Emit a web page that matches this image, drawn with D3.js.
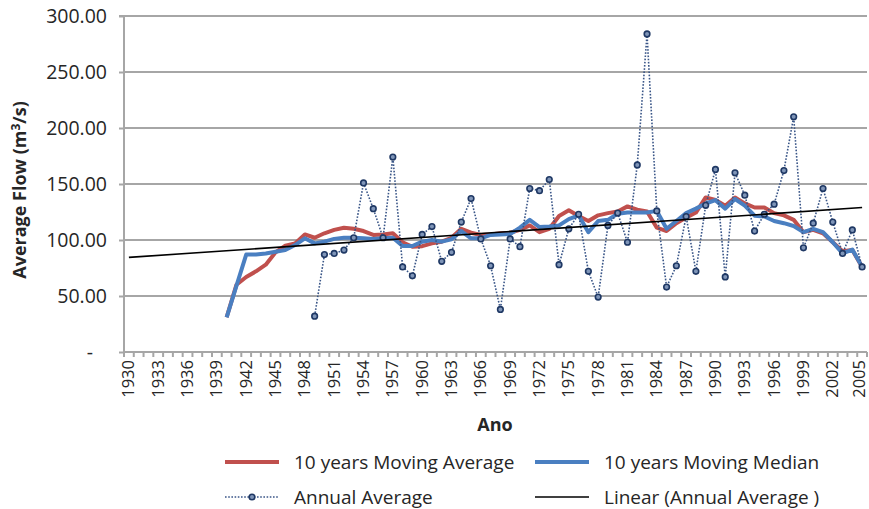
<!DOCTYPE html>
<html>
    <head>
        <meta charset="utf-8">
        <title>Average Flow</title>
        <script src="https://d3js.org/d3.v7.min.js"></script>
        <style>
            body { margin:0; background:#fff; }
            text { font-family:"Open Sans", sans-serif; fill:#262626; }
            .grid line { stroke:#a6a6a6; stroke-width:2px; }
            .axis path, .axis line { stroke:#a6a6a6; stroke-width:2px; }
        </style>
    </head>
    <body>
        <svg id="chart" width="869" height="509"></svg>

        <script>
            "use strict";

            // years on the category axis
            const years = d3.range(1930, 2006);
            const yTicks = [0, 50, 100, 150, 200, 250, 300];

            // 10 years moving average / median, 1940..2005
            const maYears = d3.range(1940, 2006);
            const movingAverage = [31, 60, 67, 72, 78, 89, 95, 97, 105, 102,
                106, 109, 111, 110, 108, 104.5, 105, 106, 98, 94,
                94.5, 97, 98.5, 102, 110, 106.5, 104.5, 105, 106, 106.5,
                109, 113, 107, 110, 121.5, 126.5, 121.5, 117, 122, 124,
                125.5, 130, 127, 125.5, 111, 108, 115, 120, 124.5, 138,
                135.7, 130.5, 138, 132.7, 129, 129, 124, 122, 118, 107,
                109, 106, 98, 90, 91, 76];
            const movingMedian = [31, 59, 87, 87, 88, 89.5, 91, 95.5, 101.5, 97,
                98.5, 101, 102, 102, 101.5, 101, 101.5, 102, 94.6, 94.6,
                98.5, 100, 98.5, 100.6, 108, 101.5, 101.5, 104.5, 105, 105.4,
                111, 118, 111.5, 112, 113, 118.7, 122, 107, 117, 118,
                123.5, 124.5, 124.5, 124.5, 126, 110, 117, 124, 128, 132.6,
                135.6, 128, 136.6, 130.7, 121.7, 121, 117, 115, 112.5, 107,
                110, 107, 98, 88, 91.5, 76];

            // annual average, 1949..2005
            const annualYears = d3.range(1949, 2006);
            const annualAverage = [32, 87, 88, 91, 102, 151, 128, 102, 174, 76,
                68, 105, 112, 81, 89, 116, 137, 101, 77, 38,
                101, 94, 146, 144, 154, 78, 110, 123, 72, 49,
                113, 124, 98, 167, 284, 126, 58, 77, 121, 72,
                131, 163, 67, 160, 140, 108, 123, 132, 162, 210,
                93, 115, 146, 116, 88, 109, 76];

            // linear trend (annual average) at 1930 and 2005
            const trendYears = [1930, 2005];
            const trendValues = [84.5, 129];

            const svg = d3.select("#chart");
            const margin = { top:16, right:2, bottom:157, left:124 };
            const width = +svg.attr("width");
            const height = +svg.attr("height");
            const innerW = width - margin.left - margin.right;
            const innerH = height - margin.top - margin.bottom;

            const x = d3.scaleBand().domain(years).range([0, innerW]);
            const cx = d => x(d) + x.bandwidth() / 2;
            const y = d3.scaleLinear().domain([0, 300]).range([innerH, 0]);

            const g = svg.append("g")
                .attr("transform", `translate(${margin.left},${margin.top})`);

            // gridlines
            g.append("g").attr("class", "grid")
                .selectAll("line")
                .data(yTicks.filter(d => d > 0))
                .join("line")
                .attr("x1", 0).attr("x2", innerW)
                .attr("y1", d => y(d)).attr("y2", d => y(d));

            // y axis
            const yAxis = g.append("g").attr("class", "axis")
                .call(d3.axisLeft(y).tickValues(yTicks).tickSize(5).tickPadding(12)
                    .tickFormat(d => d === 0 ? "-" : d.toFixed(2)));
            yAxis.select(".domain").attr("d", `M-5,0H0V${innerH}`);
            yAxis.selectAll("text").style("font-size", "19.5px");
            yAxis.selectAll(".tick").filter(d => d === 0).select("text")
                .attr("x", -34).attr("text-anchor", "middle");

            // x axis
            const xAxis = g.append("g").attr("class", "axis")
                .attr("transform", `translate(0,${innerH})`)
                .call(d3.axisBottom(x).tickValues(years.filter(d => (d - 1930) % 3 === 0 || d === 2005))
                    .tickSize(0).tickPadding(0));
            xAxis.select(".domain").attr("d", `M0,0H${innerW}`);
            xAxis.selectAll("text")
                .style("font-size", "16.5px")
                .attr("text-anchor", "end")
                .attr("transform", "rotate(-90)")
                .attr("x", -8).attr("y", 0).attr("dy", "0.33em");
            // last label sits on the right edge, nudge it in a bit
            xAxis.selectAll(".tick").filter(d => d === 2005).select("text").attr("y", -2.5);
            xAxis.selectAll(".bound")
                .data(d3.range(years.length + 1))
                .join("line")
                .attr("class", "bound")
                .attr("x1", i => i * x.bandwidth()).attr("x2", i => i * x.bandwidth())
                .attr("y1", 0).attr("y2", 5)
                .attr("stroke", "#a6a6a6").attr("stroke-width", 1.5);

            // series
            const line = d3.line();
            g.append("path")
                .attr("d", line(maYears.map((yr, i) => [cx(yr), y(movingAverage[i])])))
                .attr("fill", "none").attr("stroke", "#c0504d").attr("stroke-width", 4)
                .attr("stroke-linejoin", "round");
            g.append("path")
                .attr("d", line(maYears.map((yr, i) => [cx(yr), y(movingMedian[i])])))
                .attr("fill", "none").attr("stroke", "#4a7fc1").attr("stroke-width", 4)
                .attr("stroke-linejoin", "round");
            g.append("path")
                .attr("d", line(annualYears.map((yr, i) => [cx(yr), y(annualAverage[i])])))
                .attr("fill", "none").attr("stroke", "#3a5688").attr("stroke-width", 1.6)
                .attr("stroke-dasharray", "1.6,1.6");
            g.selectAll(".pt")
                .data(annualYears)
                .join("circle")
                .attr("class", "pt")
                .attr("cx", d => cx(d))
                .attr("cy", (d, i) => y(annualAverage[i]))
                .attr("r", 2.8)
                .attr("fill", "#7f95b8").attr("stroke", "#1f3864").attr("stroke-width", 1.6);
            g.append("path")
                .attr("d", line(trendYears.map((yr, i) => [cx(yr), y(trendValues[i])])))
                .attr("fill", "none").attr("stroke", "#000").attr("stroke-width", 1.6);

            // axis titles
            svg.append("text")
                .attr("transform", `translate(26,${margin.top + innerH / 2 + 6}) rotate(-90)`)
                .attr("text-anchor", "middle")
                .style("font-size", "18px").style("font-weight", "bold")
                .html("Average Flow (m<tspan dy='-6' font-size='12px'>3</tspan><tspan dy='6'>/s)</tspan>");
            svg.append("text")
                .attr("x", 495).attr("y", 431)
                .attr("text-anchor", "middle")
                .style("font-size", "18px").style("font-weight", "bold")
                .text("Ano");

            // legend
            const legend = svg.append("g").style("font-size", "19px");
            const items = [
                { label:"10 years Moving Average", x:225, y:462, color:"#c0504d", w:4 },
                { label:"10 years Moving Median", x:535, y:462, color:"#4a7fc1", w:4 },
                { label:"Annual Average", x:225, y:497, color:"#3a5688", w:1.6, dash:"1.6,1.6", marker:true },
                { label:"Linear (Annual Average )", x:535, y:497, color:"#000", w:1.6 }
            ];
            items.forEach(it => {
                legend.append("line")
                    .attr("x1", it.x).attr("x2", it.x + 54)
                    .attr("y1", it.y).attr("y2", it.y)
                    .attr("stroke", it.color).attr("stroke-width", it.w)
                    .attr("stroke-dasharray", it.dash || null);
                if (it.marker) {
                    legend.append("circle")
                        .attr("cx", it.x + 27).attr("cy", it.y).attr("r", 2.8)
                        .attr("fill", "#7f95b8").attr("stroke", "#1f3864").attr("stroke-width", 1.6);
                }
                legend.append("text")
                    .attr("x", it.x + 69).attr("y", it.y).attr("dy", "0.35em")
                    .text(it.label);
            });
        </script>
    </body>
</html>
